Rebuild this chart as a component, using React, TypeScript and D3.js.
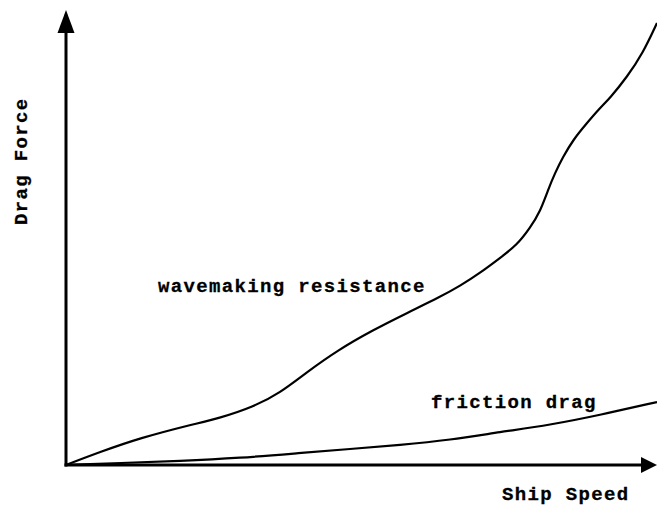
import React from "react";
import * as d3 from "d3";

const W = 657;
const H = 506;

// speed / force in arbitrary drawing units
const waveSpeed = [0, 34, 74, 124, 154, 187, 214, 241, 272, 307, 341, 374, 394, 414, 434, 451, 464, 474, 482, 489, 497, 507, 521, 534, 544, 561, 577, 591];
const waveForce = [0, 13, 27, 40, 47, 58, 72, 93, 115, 135, 152, 168, 179, 192, 207, 220, 237, 253, 275, 292, 308, 325, 342, 357, 367, 388, 412, 442];

const fricSpeed = [0, 54, 114, 174, 234, 284, 334, 384, 434, 484, 534, 591];
const fricForce = [0, 2, 4, 7, 12, 16, 20, 25, 33, 40, 50, 63];

const xLabel = "Ship Speed";
const yLabel = "Drag Force";
const waveLabel = "wavemaking resistance";
const fricLabel = "friction drag";

export default function App() {
  const x = d3.scaleLinear().domain([0, 591]).range([66, 657]);
  const y = d3.scaleLinear().domain([0, 455]).range([465, 10]);

  const line = d3
    .line<[number, number]>()
    .x((d) => x(d[0]))
    .y((d) => y(d[1]))
    .curve(d3.curveBasis);

  const wave = line(waveSpeed.map((s, i) => [s, waveForce[i]] as [number, number])) || "";
  const fric = line(fricSpeed.map((s, i) => [s, fricForce[i]] as [number, number])) || "";

  const x0 = x(0);
  const y0 = y(0);
  const yTop = y(455);
  const xEnd = x(591);

  const font = {
    fontFamily: "'Liberation Mono', 'Courier New', monospace",
    fontWeight: "bold" as const,
    fontSize: 19,
    letterSpacing: 1.35,
    fill: "#000",
    stroke: "#000",
    strokeWidth: 0.3,
  };

  return (
    <svg
      width={W}
      height={H}
      style={{ position: "absolute", left: 0, top: 0, background: "#fff" }}
    >
      <rect x={0} y={0} width={W} height={H} fill="#fff" />
      {/* axes */}
      <line x1={x0} y1={y0 + 1.5} x2={x0} y2={yTop + 20} stroke="#000" strokeWidth={3} />
      <path d={`M${x0},${yTop} L${x0 - 8.5},${yTop + 23} L${x0 + 8.5},${yTop + 23} Z`} fill="#000" />
      <line x1={x0 - 1.5} y1={y0} x2={xEnd - 14} y2={y0} stroke="#000" strokeWidth={3} />
      <path d={`M${xEnd},${y0} L${xEnd - 16},${y0 - 8} L${xEnd - 16},${y0 + 8} Z`} fill="#000" />

      {/* curves */}
      <path d={wave} fill="none" stroke="#000" strokeWidth={2.2} strokeLinejoin="round" />
      <path d={fric} fill="none" stroke="#000" strokeWidth={2.2} strokeLinejoin="round" />

      {/* labels */}
      <text x={158} y={292} {...font}>{waveLabel}</text>
      <text x={431} y={408} {...font}>{fricLabel}</text>
      <text x={502} y={500} {...font}>{xLabel}</text>
      <text transform={`translate(27,225) rotate(-90)`} {...font}>{yLabel}</text>
    </svg>
  );
}
